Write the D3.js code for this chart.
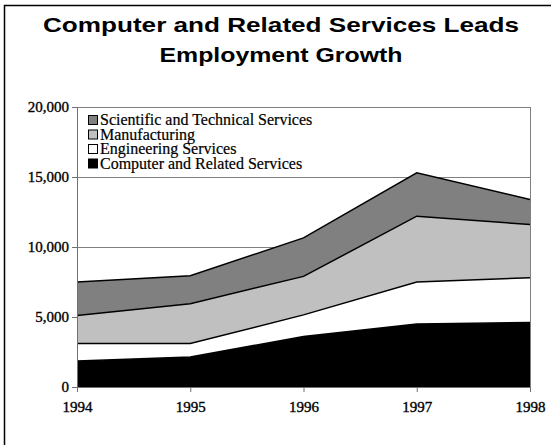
<!DOCTYPE html>
<html>
<head>
<meta charset="utf-8">
<script src="https://cdn.jsdelivr.net/npm/d3@7"></script>
<style>
  html, body { margin: 0; padding: 0; background: #fff; overflow: hidden; }
  svg { display: block; }
</style>
</head>
<body>
<svg id="chart" width="551" height="445"></svg>
<script>
// Data (thousands of jobs, stacked bottom to top)
const years = [1994, 1995, 1996, 1997, 1998];
const computerServices = [1850, 2150, 3600, 4500, 4600];
const engineeringServices = [1250, 950, 1550, 3000, 3200];
const manufacturing = [2000, 2850, 2750, 4700, 3800];
const scientificServices = [2400, 2000, 2750, 3100, 1800];
const yTicks = [0, 5000, 10000, 15000, 20000];

const seriesNames = ['Computer and Related Services', 'Engineering Services', 'Manufacturing', 'Scientific and Technical Services'];
const seriesValues = [computerServices, engineeringServices, manufacturing, scientificServices];
const fills = ['#000000', '#ffffff', '#c0c0c0', '#808080'];

const svg = d3.select('#chart');
const plot = { left: 77, right: 530, top: 107, bottom: 387 };

// outer frame: only top & left edges fall inside the picture
svg.append('path')
  .attr('d', 'M4.5,445V5.5H551')
  .attr('fill', 'none').attr('stroke', '#000').attr('stroke-width', 1.5);

// title (the original is drawn a little wide)
const titleLines = ['Computer and Related Services Leads', 'Employment Growth'];
svg.append('g')
  .selectAll('text')
  .data(titleLines)
  .join('text')
  .attr('x', 281)
  .attr('y', (d, i) => 32 + i * 30)
  .attr('text-anchor', 'middle')
  .attr('font-family', 'Liberation Sans, Arial, sans-serif')
  .attr('font-weight', 'bold')
  .attr('font-size', 21)
  .attr('fill', '#000')
  .attr('textLength', (d, i) => i === 0 ? 476 : 243)
  .attr('lengthAdjust', 'spacingAndGlyphs')
  .text(d => d);

const x = d3.scaleLinear().domain([1994, 1998]).range([plot.left, plot.right]);
const y = d3.scaleLinear().domain([0, 20000]).range([plot.bottom, plot.top]);

// table for stack
const table = years.map((yr, i) => {
  const row = { year: yr };
  seriesNames.forEach((n, k) => { row[n] = seriesValues[k][i]; });
  return row;
});
const stacked = d3.stack().keys(seriesNames)(table);

// gridlines
svg.append('g')
  .selectAll('line')
  .data(yTicks.filter(t => t > 0))
  .join('line')
  .attr('x1', plot.left).attr('x2', plot.right)
  .attr('y1', d => y(d) + 0.5).attr('y2', d => y(d) + 0.5)
  .attr('stroke', '#808080').attr('stroke-width', 1);

// right border of the plot
svg.append('line')
  .attr('x1', plot.right + 0.5).attr('x2', plot.right + 0.5)
  .attr('y1', plot.top).attr('y2', plot.bottom)
  .attr('stroke', '#808080');

// areas
const area = d3.area()
  .x(d => x(d.data.year))
  .y0(d => y(d[0]))
  .y1(d => y(d[1]));
svg.append('g')
  .selectAll('path')
  .data(stacked)
  .join('path')
  .attr('d', area)
  .attr('fill', (d, i) => fills[i]);

// top edges of each band
const topLine = d3.line()
  .x(d => x(d.data.year))
  .y(d => y(d[1]));
svg.append('g')
  .selectAll('path')
  .data(stacked)
  .join('path')
  .attr('d', topLine)
  .attr('fill', 'none')
  .attr('stroke', '#000')
  .attr('stroke-width', 1.5);

// axes
const serif = 'Liberation Serif, Times New Roman, serif';
const yAxis = svg.append('g')
  .attr('transform', `translate(${plot.left},0)`)
  .call(d3.axisLeft(y).tickValues(yTicks).tickSize(5).tickPadding(3).tickFormat(d3.format(',')));
const xAxis = svg.append('g')
  .attr('transform', `translate(0,${plot.bottom})`)
  .call(d3.axisBottom(x).tickValues(years).tickSize(5).tickPadding(9).tickFormat(d3.format('d')));
[yAxis, xAxis].forEach(g => {
  g.select('.domain').attr('stroke', '#707070');
  g.selectAll('.tick line').attr('stroke', '#707070');
  g.selectAll('.tick text')
    .attr('font-family', serif)
    .attr('font-size', 15)
    .attr('fill', '#000')
    .attr('stroke', '#000')
    .attr('stroke-width', 0.35);
});

// legend, clipped just above the 15,000 gridline
svg.append('clipPath').attr('id', 'legclip')
  .append('rect').attr('x', 78).attr('y', 109).attr('width', 300).attr('height', 66);
const legend = svg.append('g').attr('clip-path', 'url(#legclip)');
const legOrder = [3, 2, 1, 0];
legOrder.forEach((k, i) => {
  const by = 124 + i * 14.5;
  legend.append('rect')
    .attr('x', 88.5).attr('y', by - 8.5)
    .attr('width', 9).attr('height', 9)
    .attr('fill', fills[k]).attr('stroke', '#000').attr('stroke-width', 1);
  legend.append('text')
    .attr('x', 100).attr('y', by + 1)
    .attr('font-family', serif)
    .attr('font-size', 16)
    .attr('fill', '#000')
    .attr('stroke', '#000')
    .attr('stroke-width', 0.2)
    .text(seriesNames[k]);
});
</script>
</body>
</html>
